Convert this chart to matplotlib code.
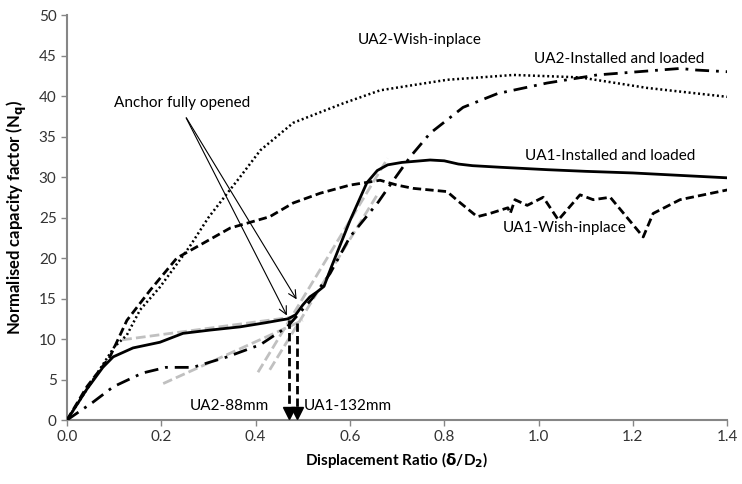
#!/usr/bin/python3

import matplotlib
matplotlib.use("Agg")
import matplotlib.pyplot as plt

#_____________________________________________________________________________
# digitised curves, displacement ratio vs N_q

ua1_inst_x = [0, 0.02, 0.042, 0.076, 0.098, 0.14, 0.197, 0.246, 0.303, 0.367, 0.42, 0.469, 0.485, 0.5, 0.515, 0.53,
              0.545, 0.56, 0.6, 0.636, 0.658, 0.68, 0.71, 0.77, 0.8, 0.83, 0.86, 0.92, 1.02, 1.1, 1.2, 1.3, 1.4]
ua1_inst_y = [0, 1.8, 3.8, 6.5, 7.8, 8.9, 9.6, 10.7, 11.1, 11.5, 12.0, 12.5, 13.0, 14.2, 15.2, 15.8,
              16.5, 18.8, 24.6, 29.3, 30.8, 31.5, 31.8, 32.1, 32.0, 31.6, 31.4, 31.2, 30.9, 30.7, 30.5, 30.2, 29.9]

ua1_wish_x = [0, 0.042, 0.091, 0.127, 0.176, 0.233, 0.282, 0.346, 0.43, 0.48, 0.537, 0.6, 0.643, 0.664, 0.7,
              0.734, 0.806, 0.83, 0.87, 0.897, 0.935, 0.94, 0.95, 0.976, 1.01, 1.042, 1.088, 1.116, 1.152,
              1.222, 1.243, 1.3, 1.4]
ua1_wish_y = [0, 4.1, 7.8, 12.3, 16.0, 20.0, 21.6, 23.7, 25.1, 26.8, 28.0, 29.0, 29.4, 29.6, 29.0,
              28.6, 28.2, 27.0, 25.1, 25.5, 26.2, 25.5, 27.2, 26.5, 27.5, 24.7, 27.8, 27.2, 27.5,
              22.6, 25.5, 27.2, 28.4]

ua2_wish_x = [0, 0.05, 0.1, 0.127, 0.155, 0.197, 0.26, 0.30, 0.34, 0.367, 0.41, 0.48, 0.586, 0.664, 0.707,
              0.806, 0.947, 1.088, 1.23, 1.4]
ua2_wish_y = [0, 4.5, 9.0, 10.5, 13.6, 16.4, 21.4, 25.0, 28.0, 30.0, 33.3, 36.7, 39.1, 40.7, 41.1,
              42.0, 42.6, 42.3, 41.0, 39.9]

ua2_inst_x = [0, 0.055, 0.098, 0.16, 0.21, 0.267, 0.34, 0.41, 0.467, 0.49, 0.52, 0.558, 0.6, 0.66, 0.685,
              0.728, 0.77, 0.84, 0.913, 1.018, 1.124, 1.3, 1.336, 1.4]
ua2_inst_y = [0, 2.2, 4.1, 5.8, 6.5, 6.5, 7.8, 9.3, 11.5, 13.0, 15.0, 18.1, 22.6, 26.9, 29.0,
              32.5, 35.4, 38.6, 40.3, 41.6, 42.6, 43.4, 43.2, 43.0]

# tangent lines (grey dashed)
tangents = [
    ([0.117, 0.49], [9.9, 12.8]),
    ([0.204, 0.50], [4.5, 12.3]),
    ([0.405, 0.68], [5.9, 32.3]),
    ([0.43, 0.66], [6.2, 28.0]),
]

# anchor fully opened points
open_x = [0.471, 0.488]
open_y = [12.4, 12.0]
arrow_tip_x = [0.469, 0.49]
arrow_tip_y = [12.6, 14.6]

#_____________________________________________________________________________
def main():

    plt.rcParams["font.family"] = ["Lato", "DejaVu Sans"]

    col = "#868686"

    fig = plt.figure(figsize=(7.42, 4.84), dpi=100)
    ax = fig.add_axes([0.0903, 0.1322, 0.8897, 0.8368])

    for tx, ty in tangents:
        ax.plot(tx, ty, color="#c0c0c0", lw=2, linestyle=(0, (3.5, 1.5)), zorder=2)

    ax.plot(ua1_inst_x, ua1_inst_y, color="black", lw=2, linestyle="-", zorder=3)
    ax.plot(ua1_wish_x, ua1_wish_y, color="black", lw=2, linestyle=(0, (3, 1.5)), zorder=3)
    ax.plot(ua2_wish_x, ua2_wish_y, color="black", lw=1.8, linestyle=(0, (0.8, 1.1)), zorder=3)
    ax.plot(ua2_inst_x, ua2_inst_y, color="black", lw=2, linestyle=(0, (5, 2.5, 1, 2.5)), zorder=3)

    # vertical dashed arrows down to the x axis
    for x, y in zip(open_x, open_y):
        ax.plot([x, x], [y, 0.9], color="black", lw=2, linestyle=(0, (3, 1.5)), zorder=4)
        ax.plot([x], [0.9], marker="v", color="black", ms=8, zorder=4, clip_on=False)

    # anchor fully opened annotation
    for x, y in zip(arrow_tip_x, arrow_tip_y):
        ax.annotate("", xy=(x, y), xytext=(0.25, 37.6),
                    arrowprops=dict(arrowstyle="->", color="black", lw=0.8, mutation_scale=14))
    ax.text(0.244, 39.1, "Anchor fully opened", fontsize=11, ha="center", va="center")

    ax.text(0.749, 46.9, "UA2-Wish-inplace", fontsize=11, ha="center", va="center")
    ax.text(1.171, 44.6, "UA2-Installed and loaded", fontsize=11, ha="center", va="center")
    ax.text(1.152, 32.6, "UA1-Installed and loaded", fontsize=11, ha="center", va="center")
    ax.text(1.056, 23.7, "UA1-Wish-inplace", fontsize=11, ha="center", va="center")
    ax.text(0.344, 1.7, "UA2-88mm", fontsize=11, ha="center", va="center")
    ax.text(0.596, 1.7, "UA1-132mm", fontsize=11, ha="center", va="center")

    ax.set_xlim(0, 1.4)
    ax.set_ylim(0, 50)
    ax.set_xticks([0, 0.2, 0.4, 0.6, 0.8, 1.0, 1.2, 1.4])
    ax.set_xticklabels(["0.0", "0.2", "0.4", "0.6", "0.8", "1.0", "1.2", "1.4"])
    ax.set_yticks(range(0, 51, 5))

    set_axes_color(ax, col)

    ax.set_xlabel(r"Displacement Ratio ($\mathbf{\delta}$/D$_\mathbf{2}$)", fontsize=11, fontweight="bold")
    ax.set_ylabel(r"Normalised capacity factor (N$_\mathbf{q}$)", fontsize=12, fontweight="bold")
    ax.yaxis.set_label_coords(-0.058, 0.5)

    fig.savefig("out.png", dpi=100)
    plt.close()

#main

#_____________________________________________________________________________
def set_axes_color(ax, col):

    ax.spines["top"].set_visible(False)
    ax.spines["right"].set_visible(False)
    ax.spines["bottom"].set_color(col)
    ax.spines["left"].set_color(col)
    ax.spines["bottom"].set_linewidth(1.5)
    ax.spines["left"].set_linewidth(1.5)
    ax.tick_params(which="both", color=col, length=4, width=1, labelsize=11, labelcolor="#333333", direction="out")

#set_axes_color

#_____________________________________________________________________________
if __name__ == "__main__":

    main()
